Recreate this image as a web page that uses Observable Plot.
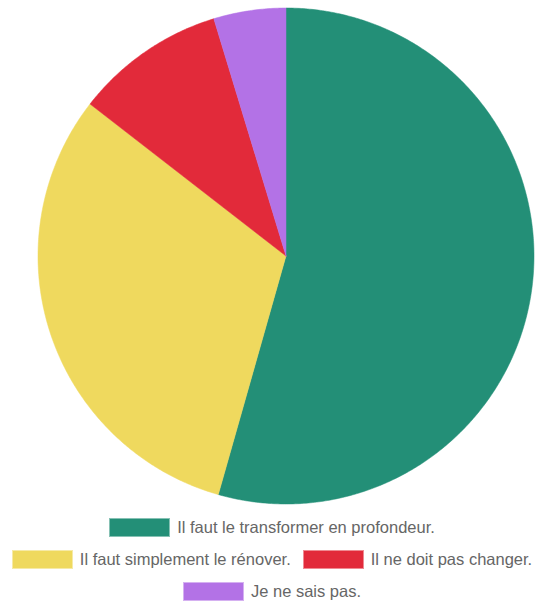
<!DOCTYPE html>
<html>
<head>
<meta charset="utf-8">
<script src="https://cdn.jsdelivr.net/npm/d3@7"></script>
<script src="https://cdn.jsdelivr.net/npm/@observablehq/plot@0.6"></script>
<style>
  html, body { margin: 0; padding: 0; background: #fff; }
  #chart { width: 544px; height: 510px; }
  .legend { width: 544px; font-family: "Liberation Sans", Arial, sans-serif; font-size: 16.5px; color: #666; margin-top: 1px; }
  .row { display: flex; justify-content: center; column-gap: 12px; height: 32px; align-items: center; }
  .item { display: flex; align-items: center; white-space: nowrap; }
  .sw { width: 61px; height: 19px; margin-right: 7px; box-sizing: border-box; border: 1px solid rgba(255,255,255,0.45); }
</style>
</head>
<body>
<div id="chart"></div>
<script>
const labels = [
  "Il faut le transformer en profondeur.",
  "Il faut simplement le rénover.",
  "Il ne doit pas changer.",
  "Je ne sais pas."
];
const values = [54.4, 31.1, 9.8, 4.7];
const colors = ["#238f77", "#efd95e", "#e22a3a", "#b372e6"];
const legendRows = [[0], [1, 2], [3]];

const data = labels.map((label, i) => ({label, value: values[i]}));
const arcs = d3.pie().sort(null).value(d => d.value)(data);

// slice outlines in unit-circle coordinates (0 rad = top, clockwise)
const pts = [];
for (const a of arcs) {
  pts.push({label: a.data.label, x: 0, y: 0});
  const n = Math.max(2, Math.ceil((a.endAngle - a.startAngle) / (Math.PI / 360)));
  for (let k = 0; k <= n; k++) {
    const t = a.startAngle + (a.endAngle - a.startAngle) * k / n;
    pts.push({label: a.data.label, x: Math.sin(t), y: Math.cos(t)});
  }
  pts.push({label: a.data.label, x: 0, y: 0});
}

const plot = Plot.plot({
  width: 544,
  height: 510,
  marginLeft: 37.5,
  marginRight: 10.5,
  marginTop: 7.5,
  marginBottom: 6.5,
  x: {domain: [-1, 1], axis: null},
  y: {domain: [-1, 1], axis: null},
  color: {domain: labels, range: colors},
  marks: [
    Plot.line(pts, {x: "x", y: "y", z: "label", fill: "label", stroke: "label", strokeWidth: 0.5, curve: "linear"})
  ]
});
document.getElementById("chart").appendChild(plot);

const legend = document.createElement("div");
legend.className = "legend";
legendRows.forEach(r => {
  const row = document.createElement("div");
  row.className = "row";
  r.forEach(i => {
    const it = document.createElement("div");
    it.className = "item";
    const sw = document.createElement("div");
    sw.className = "sw";
    sw.style.background = colors[i];
    const tx = document.createElement("span");
    tx.textContent = labels[i];
    it.appendChild(sw); it.appendChild(tx);
    row.appendChild(it);
  });
  legend.appendChild(row);
});
document.body.appendChild(legend);
</script>
</body>
</html>
